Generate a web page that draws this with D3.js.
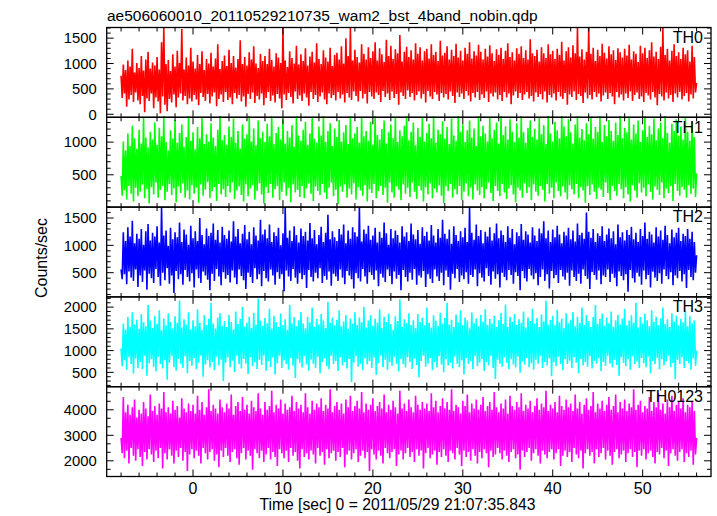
<!DOCTYPE html>
<html><head><meta charset="utf-8">
<script src="https://cdn.jsdelivr.net/npm/d3@7"></script>
<style>
body{margin:0;background:#fff}
text{font-family:"Liberation Sans",Arial,Helvetica,sans-serif;fill:#000}
</style>
</head><body><svg id="c" width="717" height="516"></svg>
<script>
const title = "ae506060010_20110529210735_wam2_bst_4band_nobin.qdp";
const xLabel = "Time [sec] 0 = 2011/05/29 21:07:35.843";
const yLabel = "Counts/sec";
const panelNames = ["TH0", "TH1", "TH2", "TH3", "TH0123"];
const timeStart = -8, timeStep = 0.125;

const th0 = [
760,320,980,410,870,150,1060,290,940,380,1290,240,820,430,1010,270,
910,200,1150,360,860,40,1080,310,1230,260,900,410,1020,120,960,330,
1130,250,880,20,1420,350,1700,190,990,60,1070,300,850,230,1180,390,
940,140,1250,330,1010,410,1680,270,880,360,1120,200,960,310,1310,250,
1040,380,900,290,1170,180,990,420,1240,340,870,260,1090,400,1000,210,
1210,350,940,430,1100,160,1380,300,890,390,1050,240,1160,440,950,280,
1270,330,1010,200,1150,420,920,310,1090,380,1460,250,990,350,1130,150,
960,400,1220,300,1080,430,1340,220,1000,360,910,290,1190,410,1050,180,
1150,320,990,440,1290,260,1070,370,940,230,1200,400,1120,310,1010,120,
1700,390,1060,280,930,420,1240,340,1110,210,1000,450,1350,300,980,370,
1180,260,1050,410,1300,330,960,170,1140,440,1230,300,1020,380,1400,240,
1090,350,990,430,1260,290,1120,200,1040,410,1310,320,950,380,1170,270,
1210,440,1080,310,1340,390,1000,230,1500,420,1150,330,1700,280,1060,450,
1270,360,1130,250,1020,460,1380,310,1190,400,1080,210,1320,440,1110,350,
1240,300,1420,430,1060,380,1300,240,1180,460,1030,340,1470,410,1150,280,
1350,450,1090,320,1280,400,1200,190,1560,430,1040,360,1230,300,1330,470,
1130,340,1260,420,1080,270,1400,380,1190,450,1320,310,1060,400,1240,230,
1290,460,1100,350,1380,300,1170,440,1230,390,1050,260,1450,420,1160,330,
1210,400,1340,290,1080,450,1270,360,1150,220,1390,430,1120,340,1250,410,
1060,300,1310,460,1190,370,1420,250,1100,420,1240,330,1160,440,1370,280,
1230,390,1080,320,1290,450,1140,240,1360,410,1200,350,1050,430,1280,290,
1170,380,1310,260,1090,440,1250,330,1400,410,1130,200,1220,370,1060,450,
1300,320,1190,420,1340,280,1110,390,1260,440,1080,310,1480,360,1200,250,
1150,430,1270,340,1040,400,1320,290,1200,450,1110,230,1380,380,1180,330,
1250,410,1090,270,1290,440,1170,350,1430,300,1060,420,1240,190,1320,390,
1120,340,1360,450,1200,280,1700,400,1140,360,1280,220,1080,430,1230,310,
1700,380,1190,290,1310,440,1050,340,1270,410,1150,250,1390,370,1210,430,
1100,300,1340,420,1180,350,1260,200,1070,440,1300,330,1220,390,1120,270,
1290,410,1160,320,1370,450,1080,260,1240,380,1190,430,1030,300,1350,350,
1200,240,1310,420,1110,370,1260,290,1420,440,1140,330,1230,180,1090,400,
1330,350,1700,270,1170,430,1290,310,1060,380,1250,240,1380,410,1150,330,
1220,440,1090,290,1310,360,1180,420,1260,250,1040,390,1350,310,1130,430,
620];

const th1 = [
480,180,1010,260,870,120,1130,330,940,210,1250,90,1060,300,900,170,
1190,240,980,350,1380,140,1070,280,920,60,1160,310,1040,200,1300,380,
960,150,1220,270,1090,330,1400,110,1000,240,870,360,1180,190,1050,290,
1340,80,990,320,1140,220,1270,370,930,150,1080,260,1400,120,1020,340,
1150,210,890,300,1230,70,1060,350,1380,180,970,270,1120,390,1010,140,
1290,250,1070,310,940,100,1190,360,1400,200,1030,280,1110,160,960,330,
1240,230,1080,380,1360,130,990,260,1170,320,900,190,1270,90,1050,350,
1120,170,1400,290,1010,340,1210,120,950,250,1330,370,1060,200,1160,60,
1000,310,1280,220,1090,360,1400,150,970,280,1140,330,1230,110,1040,240,
1350,380,980,180,1170,300,1070,80,1260,350,930,230,1400,270,1100,160,
1020,330,1190,140,1310,290,960,370,1130,210,1380,100,1050,320,990,250,
1240,190,1100,360,1400,230,1000,130,1170,300,1290,380,940,170,1210,270,
1080,50,1340,320,1010,240,1150,350,1260,150,970,290,1400,200,1060,370,
1130,120,1230,310,990,260,1380,180,1090,340,1170,90,1020,280,1310,220,
960,360,1400,140,1110,250,1040,330,1200,190,1330,300,980,70,1150,380,
1270,230,1060,150,1390,320,1000,270,1180,110,1090,350,1250,210,1400,300,
1030,160,1160,380,1300,240,950,130,1220,330,1080,260,1370,90,1010,310,
1140,200,1280,370,1060,140,1400,290,990,230,1190,340,1120,180,1320,60,
1050,320,1230,250,970,360,1360,150,1100,280,1020,200,1400,330,1160,110,
1270,240,1000,370,1180,170,1330,300,1070,120,1210,350,940,260,1400,190,
1090,310,1250,140,1130,280,1010,380,1380,220,1060,100,1190,330,1300,250,
980,170,1400,360,1110,230,1240,130,1040,290,1350,340,1160,200,1000,80,
1290,300,1070,260,1400,150,1150,370,990,220,1220,310,1330,110,1080,350,
1200,240,1040,180,1370,330,1120,270,1260,90,970,360,1400,210,1130,300,
1010,140,1310,380,1180,250,1060,170,1400,320,1240,230,1090,120,1350,340,
1150,280,980,200,1270,360,1400,140,1070,310,1200,260,1030,70,1290,330,
1120,190,1380,350,1050,240,1230,130,1160,300,1400,270,1000,160,1260,380,
1090,220,1340,110,1170,330,1020,250,1300,180,1110,360,1400,280,1060,140,
1220,310,1150,200,1390,90,1040,340,1270,260,1130,150,1330,370,1000,230,
1180,300,1400,170,1080,350,1250,240,1120,120,1360,320,1030,270,1210,190,
1300,380,1060,140,1400,290,1140,220,990,330,1280,100,1170,360,1350,250,
1100,180,1240,310,1040,270,1390,150,1160,340,1020,210,1310,290,1080,160,
520];

const th2 = [
560,380,1240,470,1080,290,1330,520,1160,410,1450,350,1040,560,1210,240,
1120,450,1300,330,1010,540,1260,190,1390,480,1090,400,1230,310,1160,570,
1350,420,1050,260,1700,500,1180,360,1270,580,990,300,1320,450,1110,130,
1240,530,1150,380,1420,470,1060,280,1290,550,1200,420,1010,340,1360,490,
1130,230,1260,560,1080,400,1500,310,1190,520,1020,450,1310,370,1170,180,
1230,480,1400,350,1100,570,1280,430,1050,270,1340,510,1190,390,1120,460,
1270,320,1070,540,1440,410,1160,290,1300,560,1040,440,1210,360,1370,200,
1110,500,1250,420,1020,310,1330,580,1180,380,1090,470,1470,250,1200,530,
1290,400,1130,340,1380,560,1060,450,1240,280,1170,510,1320,390,1000,470,
1220,160,1700,540,1140,430,1270,350,1080,570,1350,410,1190,300,1050,490,
1310,380,1170,460,1250,220,1090,550,1410,420,1130,340,1280,500,1020,400,
1190,580,1340,310,1060,440,1230,370,1560,520,1110,260,1260,480,1150,430,
1080,350,1300,560,1200,410,1380,290,1040,530,1270,450,1120,380,1330,210,
1240,490,1160,400,1700,340,1070,570,1290,430,1210,300,1360,510,1100,460,
1180,370,1320,540,1050,250,1250,480,1140,410,1420,330,1220,560,1010,440,
1300,290,1130,520,1270,390,1190,460,1050,180,1350,550,1160,420,1240,340,
1080,500,1400,370,1200,570,1110,280,1280,450,1030,410,1330,530,1170,240,
1250,470,1090,390,1370,310,1180,560,1050,430,1300,350,1140,500,1470,270,
1210,540,1120,420,1290,190,1030,480,1350,400,1190,570,1080,330,1260,450,
1150,380,1320,510,1060,300,1700,460,1230,420,1100,560,1380,250,1170,490,
1280,410,1040,340,1250,580,1160,440,1330,280,1090,520,1220,390,1400,470,
1130,230,1270,500,1190,420,1060,360,1350,550,1140,460,1300,300,1020,510,
1240,440,1170,180,1390,530,1100,400,1260,340,1200,570,1050,450,1330,380,
1180,490,1080,270,1310,420,1220,560,1440,350,1130,470,1270,210,1060,530,
1290,400,1150,460,1360,310,1200,550,1040,430,1250,370,1180,500,1320,260,
1110,540,1270,420,1070,350,1400,480,1190,300,1230,560,1120,440,1600,390,
1250,200,1140,510,1300,460,1060,370,1220,540,1170,290,1350,450,1080,420,
1200,560,1310,330,1130,480,1260,410,1020,250,1380,520,1150,440,1240,360,
1090,470,1280,150,1190,550,1340,400,1110,320,1230,500,1060,430,1300,280,
1170,540,1420,380,1120,460,1250,230,1200,520,1050,410,1330,350,1160,490,
1270,300,1100,560,1360,440,1190,380,1040,510,1290,270,1150,450,1230,400,
1320,530,1080,340,1210,470,1170,220,1300,550,1120,420,1250,360,1060,500,
820];

const th3 = [
1050,640,1620,780,1480,560,1770,850,1540,690,1880,470,1600,820,1710,600,
1500,740,1840,580,1650,880,1560,420,2050,710,1690,800,1520,630,1800,520,
1620,860,1930,690,1470,590,1740,780,1580,330,1860,720,1660,880,1510,620,
1790,540,1640,810,2150,700,1530,600,1720,870,1600,480,1880,760,1490,650,
1700,830,1560,570,1950,720,1640,890,1480,400,1810,680,1590,780,1730,610,
2100,740,1620,550,1510,860,1760,660,1860,790,1570,300,1680,720,1540,840,
1820,620,1660,770,1490,510,1900,880,1610,690,1730,590,2000,810,1550,700,
1640,460,1780,850,1520,640,1870,730,1600,580,2200,790,1690,670,1570,880,
1750,540,1630,760,1960,620,1510,840,1800,450,1660,710,1540,880,1850,600,
1590,780,1720,690,1480,560,2050,830,1630,650,1770,370,1560,800,1700,720,
1890,610,1620,870,1510,680,1780,540,1650,790,1990,700,1540,600,1730,860,
1600,480,1840,730,1690,820,1520,640,2120,570,1640,880,1760,690,1580,760,
1710,530,1930,840,1560,660,1670,740,1820,590,1500,810,1740,280,1620,720,
1880,870,1590,630,1760,700,1650,550,2000,820,1530,680,1690,760,1810,600,
1570,840,1730,440,1640,710,1950,880,1520,620,1780,790,1660,560,1850,730,
1610,650,1480,860,1790,700,1680,520,2180,800,1550,690,1720,610,1630,850,
1860,740,1590,580,1700,820,1520,670,1840,390,1660,760,1760,880,1580,630,
1990,700,1640,830,1530,550,1810,740,1690,610,1570,870,1870,680,1620,500,
1750,800,2100,660,1600,720,1710,590,1540,860,1830,700,1650,620,1920,780,
1580,450,1760,830,1690,690,1510,760,1880,580,1630,870,1740,640,1560,720,
1820,810,1670,530,1950,740,1590,660,1730,880,1620,600,1800,350,1540,790,
1700,700,1870,630,1610,850,2060,720,1550,570,1780,800,1660,680,1840,610,
1590,860,1720,490,1640,750,1900,680,1530,830,1760,620,1680,710,1960,560,
1620,790,1750,700,1540,880,1830,600,1670,740,2150,660,1600,820,1710,410,
1800,730,1580,640,1940,860,1650,700,1740,550,1520,800,1860,690,1630,770,
1710,600,1890,850,1560,720,1780,480,1640,810,1990,660,1590,740,1820,630,
1680,870,1540,590,1770,760,2050,700,1610,820,1730,530,1850,740,1570,650,
1760,880,1630,700,1900,610,1550,790,1700,670,1820,420,1600,840,1740,720,
1960,640,1580,800,1690,560,1810,870,1640,690,2100,750,1530,600,1770,830,
1620,710,1850,620,1700,860,1560,480,1930,760,1660,690,1780,830,1590,570,
1740,800,1990,660,1610,750,1720,880,1540,620,1860,710,1670,340,1800,790,
1580,690,1730,850,1650,600,1920,760,1560,710,1790,560,1630,820,1700,650,
1000];

const th0123 = [
2900,2300,4500,2100,3900,2400,4200,1900,3800,2500,4100,2200,4400,2000,3700,2450,
4000,2150,3850,1800,4300,2350,4050,2050,3750,2450,4600,2250,3950,1950,4150,2400,
3800,2100,4250,2500,4050,1700,4700,2300,3900,2050,4100,2450,3850,2200,4350,1900,
4000,2400,4150,2150,3700,2500,4450,2000,4050,2350,3900,1600,4250,2250,3950,2450,
4200,2100,3850,2400,4550,2200,4000,1900,4300,2500,3800,2300,4100,2050,4800,2350,
3950,2450,4200,2000,4050,2250,3850,1750,4400,2400,4100,2150,3900,2500,4250,2200,
4050,1950,4600,2350,3800,2450,4150,2100,4300,1850,3950,2300,4500,2500,4000,2050,
4200,2400,3850,2200,4350,1650,4100,2450,3950,2300,4650,2100,4050,2400,3800,1950,
4300,2250,4000,2500,4150,2050,4750,2350,3900,2150,4200,1800,4050,2450,4400,2300,
3850,2100,4250,2400,4000,1950,4100,2500,4550,2200,3950,2350,4300,2000,4050,1700,
4200,2450,3900,2150,4650,2300,4100,2050,3850,2400,4350,2250,4000,1900,4250,2500,
4100,2200,4450,2350,3950,1850,4200,2450,4050,2100,4800,2300,3900,2400,4150,2000,
4300,2350,4000,2150,4250,2500,3850,1750,4400,2250,4100,2400,4550,2050,3950,2300,
4150,2450,4350,1950,4050,2200,4700,2400,3900,2100,4250,2350,4000,1600,4200,2450,
4450,2250,3950,2050,4150,2400,4300,2200,4050,1900,4600,2500,3900,2300,4200,2100,
4000,2350,4350,2450,4100,1800,3850,2250,4750,2400,4050,2050,4250,2300,3950,2500,
4400,2150,4100,2350,3900,1950,4550,2450,4200,2200,4000,2400,4300,1700,4050,2300,
4250,2500,3950,2100,4650,2250,4100,2400,4350,1850,3900,2350,4150,2150,4450,2450,
4050,2200,4300,1950,4000,2400,4800,2300,3950,2050,4200,2500,4100,2250,3850,1800,
4350,2400,4150,2150,4600,2350,3900,2000,4250,2450,4050,2200,4400,1900,4000,2350,
4200,2100,4500,2450,3950,2300,4150,1750,4300,2400,4000,2150,4700,2250,4100,2500,
3900,2300,4250,2050,4050,2400,4400,2200,3850,1950,4550,2350,4150,2450,4000,2100,
4300,2250,4100,1650,4650,2400,3950,2150,4200,2350,4050,2500,4350,2000,3900,2300,
4150,2450,4450,2200,4000,1900,4250,2400,4100,2250,4750,2100,3950,2350,4200,2450,
4050,2050,4300,2300,3900,2450,4550,1800,4150,2200,4000,2400,4400,2150,4100,2350,
4250,1950,3950,2500,4600,2250,4050,2100,4300,2400,3850,1700,4200,2300,4450,2450,
4000,2200,4150,2350,4700,1900,3900,2450,4250,2150,4050,2300,4350,2500,3950,2050,
4200,2400,4500,2200,4000,1850,4150,2350,4600,2450,3900,2100,4300,2250,4050,2400,
4400,1950,3950,2300,4250,2450,4100,2150,4800,2350,4000,1750,4200,2400,4350,2200,
3900,2450,4150,2050,4050,2300,4500,2400,3950,2150,4300,1900,4100,2350,4650,2250,
4000,2500,4250,2100,3850,2400,4400,1800,4100,2300,4550,2450,3950,2200,4200,2000,
4300,2350,4050,2450,4450,1950,3900,2300,4200,2150,4100,2400,4350,1850,3950,2250,
2900];

const seriesList = [th0, th1, th2, th3, th0123];
const xDomain = [-9.6, 57.6];
const xMajorStep = 10, xMinorStep = 2;
const yDomains = [[-60, 1710], [5, 1380], [57, 1700], [170, 2235], [1385, 4905]];
const yMajorSteps = [500, 500, 500, 500, 1000];
const yMinorSteps = [100, 100, 100, 100, 1000 / 3];
const colors = ["#ff0000", "#00ff00", "#0000ff", "#00ffff", "#ff00ff"];

const svg = d3.select("#c");
const L = 106.7, R = 711, T = 27.5, PH = 89.8;
const x = d3.scaleLinear().domain(xDomain).range([L, R]);
const majLen = 7, minLen = 4;

function stepTicks(dom, step) {
  const lo = Math.ceil(dom[0] / step - 1e-9) * step;
  return d3.range(lo, dom[1] + 1e-9, step);
}

const defs = svg.append("defs");

seriesList.forEach((vals, p) => {
  const top = T + p * PH, bot = top + PH;
  const y = d3.scaleLinear().domain(yDomains[p]).range([bot, top]);
  defs.append("clipPath").attr("id", "cp" + p)
    .append("rect").attr("x", L).attr("y", top - 3).attr("width", R - L).attr("height", PH + 6);
  const line = d3.line().x((d, i) => x(timeStart + i * timeStep)).y(d => y(d));
  svg.append("path").datum(vals)
    .attr("clip-path", "url(#cp" + p + ")")
    .attr("d", line).attr("fill", "none")
    .attr("stroke", colors[p]).attr("stroke-width", 1.6).attr("stroke-linejoin", "bevel");
});

seriesList.forEach((vals, p) => {
  const top = T + p * PH, bot = top + PH;
  const y = d3.scaleLinear().domain(yDomains[p]).range([bot, top]);
  const g = svg.append("g");
  const ma = stepTicks(yDomains[p], yMajorSteps[p]);
  const mi = stepTicks(yDomains[p], yMinorSteps[p]);
  const xma = stepTicks(xDomain, xMajorStep);
  const xmi = stepTicks(xDomain, xMinorStep);
  mi.forEach(v => {
    const len = ma.some(m => Math.abs(m - v) < 1e-3) ? majLen : minLen;
    g.append("line").attr("x1", L).attr("x2", L + len).attr("y1", y(v)).attr("y2", y(v)).attr("stroke", "#000");
    g.append("line").attr("x1", R).attr("x2", R - len).attr("y1", y(v)).attr("y2", y(v)).attr("stroke", "#000");
  });
  xmi.forEach(v => {
    const len = xma.some(m => Math.abs(m - v) < 1e-6) ? majLen : minLen;
    g.append("line").attr("x1", x(v)).attr("x2", x(v)).attr("y1", top).attr("y2", top + len).attr("stroke", "#000");
    g.append("line").attr("x1", x(v)).attr("x2", x(v)).attr("y1", bot).attr("y2", bot - len).attr("stroke", "#000");
  });
  g.append("rect").attr("x", L).attr("y", top).attr("width", R - L).attr("height", PH)
    .attr("fill", "none").attr("stroke", "#000").attr("stroke-width", 1.3);
  ma.forEach(v => {
    g.append("text").attr("x", L - 10).attr("y", y(v)).attr("dy", "0.36em")
      .attr("text-anchor", "end").attr("font-size", 14.8).text(v);
  });
  g.append("text").attr("x", 703).attr("y", top + 15.2).attr("text-anchor", "end")
    .attr("font-size", 16).text(panelNames[p]);
  if (p === seriesList.length - 1) {
    xma.forEach(v => {
      g.append("text").attr("x", x(v)).attr("y", bot + 17).attr("text-anchor", "middle")
        .attr("font-size", 16).text(v);
    });
  }
});

svg.append("text").attr("x", 107).attr("y", 20.5).attr("font-size", 15.5).text(title);
svg.append("text").attr("x", 397.5).attr("y", 510).attr("text-anchor", "middle").attr("font-size", 15.7).text(xLabel);
svg.append("text").attr("transform", "translate(46.5,258) rotate(-90)").attr("text-anchor", "middle")
  .attr("font-size", 16).text(yLabel);
</script>
</body></html>
